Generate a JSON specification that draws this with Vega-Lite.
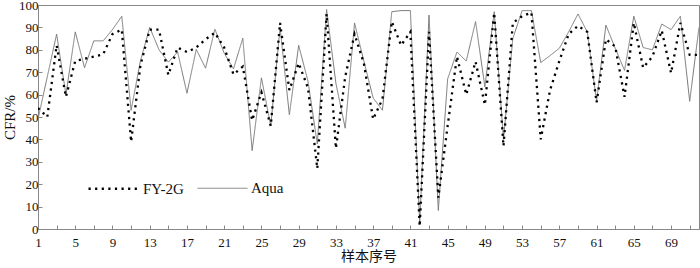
{
  "$schema": "https://vega.github.io/schema/vega-lite/v6.json",
  "autosize": "none",
  "width": 661,
  "height": 224,
  "padding": {"left": 38, "top": 5, "right": 1, "bottom": 39},
  "background": "white",
  "config": {
    "view": {"stroke": "#888", "strokeWidth": 1},
    "axis": {
      "labelFont": "Liberation Serif",
      "titleFont": "Liberation Serif, Noto Sans CJK SC",
      "labelFontSize": 13,
      "titleFontSize": 15,
      "titleFontWeight": "normal",
      "labelColor": "#111",
      "titleColor": "#111",
      "domainColor": "#888",
      "tickColor": "#888",
      "grid": false
    },
    "legend": {
      "labelFont": "Liberation Serif",
      "labelFontSize": 15,
      "labelColor": "#111"
    }
  },
  "data": {
    "values": [
      {"n":1,"FY-2G":54,"Aqua":49},
      {"n":2,"FY-2G":50,"Aqua":68},
      {"n":3,"FY-2G":82,"Aqua":87},
      {"n":4,"FY-2G":59,"Aqua":60},
      {"n":5,"FY-2G":75,"Aqua":88},
      {"n":6,"FY-2G":76,"Aqua":72},
      {"n":7,"FY-2G":77,"Aqua":84},
      {"n":8,"FY-2G":78,"Aqua":84},
      {"n":9,"FY-2G":87,"Aqua":89},
      {"n":10,"FY-2G":89,"Aqua":95},
      {"n":11,"FY-2G":39,"Aqua":53},
      {"n":12,"FY-2G":73,"Aqua":75},
      {"n":13,"FY-2G":89,"Aqua":90},
      {"n":14,"FY-2G":89,"Aqua":80},
      {"n":15,"FY-2G":68.8,"Aqua":74.5},
      {"n":16,"FY-2G":81,"Aqua":79},
      {"n":17,"FY-2G":79,"Aqua":60.6},
      {"n":18,"FY-2G":81,"Aqua":80.2},
      {"n":19,"FY-2G":84.7,"Aqua":71.8},
      {"n":20,"FY-2G":87.6,"Aqua":89.2},
      {"n":21,"FY-2G":81,"Aqua":78.5},
      {"n":22,"FY-2G":69,"Aqua":71.5},
      {"n":23,"FY-2G":72.5,"Aqua":85.2},
      {"n":24,"FY-2G":48.5,"Aqua":35},
      {"n":25,"FY-2G":61,"Aqua":67.5},
      {"n":26,"FY-2G":46,"Aqua":46},
      {"n":27,"FY-2G":92,"Aqua":90},
      {"n":28,"FY-2G":62,"Aqua":51},
      {"n":29,"FY-2G":74,"Aqua":82},
      {"n":30,"FY-2G":63,"Aqua":66},
      {"n":31,"FY-2G":27,"Aqua":38},
      {"n":32,"FY-2G":96,"Aqua":98},
      {"n":33,"FY-2G":36,"Aqua":65},
      {"n":34,"FY-2G":68,"Aqua":45},
      {"n":35,"FY-2G":87,"Aqua":92},
      {"n":36,"FY-2G":74,"Aqua":75},
      {"n":37,"FY-2G":49,"Aqua":58.5},
      {"n":38,"FY-2G":58,"Aqua":53},
      {"n":39,"FY-2G":92.6,"Aqua":97},
      {"n":40,"FY-2G":82,"Aqua":97.5},
      {"n":41,"FY-2G":88,"Aqua":97.5},
      {"n":42,"FY-2G":1.2,"Aqua":2.5},
      {"n":43,"FY-2G":88,"Aqua":95.5},
      {"n":44,"FY-2G":14,"Aqua":8.3},
      {"n":45,"FY-2G":46,"Aqua":67},
      {"n":46,"FY-2G":77,"Aqua":79},
      {"n":47,"FY-2G":60,"Aqua":75},
      {"n":48,"FY-2G":74.7,"Aqua":92.6},
      {"n":49,"FY-2G":55.4,"Aqua":63.5},
      {"n":50,"FY-2G":96.5,"Aqua":97},
      {"n":51,"FY-2G":37,"Aqua":40},
      {"n":52,"FY-2G":92,"Aqua":85},
      {"n":53,"FY-2G":95,"Aqua":97.5},
      {"n":54,"FY-2G":96.6,"Aqua":97.5},
      {"n":55,"FY-2G":40,"Aqua":74.3},
      {"n":56,"FY-2G":62,"Aqua":77.4},
      {"n":57,"FY-2G":75,"Aqua":80.7},
      {"n":58,"FY-2G":87,"Aqua":88},
      {"n":59,"FY-2G":90.7,"Aqua":96},
      {"n":60,"FY-2G":88,"Aqua":88},
      {"n":61,"FY-2G":56.5,"Aqua":57},
      {"n":62,"FY-2G":84.7,"Aqua":91},
      {"n":63,"FY-2G":81.5,"Aqua":80.7},
      {"n":64,"FY-2G":59,"Aqua":70.8},
      {"n":65,"FY-2G":92,"Aqua":95},
      {"n":66,"FY-2G":72,"Aqua":81},
      {"n":67,"FY-2G":77,"Aqua":80},
      {"n":68,"FY-2G":88.6,"Aqua":91.5},
      {"n":69,"FY-2G":69.6,"Aqua":89},
      {"n":70,"FY-2G":92,"Aqua":95},
      {"n":71,"FY-2G":77.7,"Aqua":57},
      {"n":72,"FY-2G":77.7,"Aqua":90}
    ]
  },
  "transform": [{"fold": ["Aqua", "FY-2G"], "as": ["series", "cfr"]}],
  "mark": {"type": "line", "strokeCap": "butt", "strokeJoin": "miter", "clip": true},
  "encoding": {
    "x": {
      "field": "n",
      "type": "quantitative",
      "scale": {"domain": [1, 72], "nice": false, "zero": false},
      "axis": {
        "title": "样本序号",
        "titleFontSize": 14,
        "values": [1,3,5,7,9,11,13,15,17,19,21,23,25,27,29,31,33,35,37,39,41,43,45,47,49,51,53,55,57,59,61,63,65,67,69,71],
        "labelExpr": "(datum.value - 1) % 4 == 0 ? datum.label : ''",
        "tickSize": -4,
        "labelPadding": 11,
        "labelFlush": false,
        "titlePadding": 0
      }
    },
    "y": {
      "field": "cfr",
      "type": "quantitative",
      "scale": {"domain": [0, 100], "nice": false},
      "axis": {
        "title": "CFR/%",
        "values": [0,10,20,30,40,50,60,70,80,90,100],
        "tickSize": -4,
        "labelPadding": 4,
        "titlePadding": 1
      }
    },
    "color": {
      "field": "series",
      "type": "nominal",
      "scale": {"domain": ["FY-2G", "Aqua"], "range": ["#000000", "#7a7a7a"]},
      "legend": {
        "title": null,
        "orient": "none",
        "legendX": 49,
        "legendY": 157,
        "direction": "horizontal",
        "symbolType": "stroke",
        "symbolSize": 2500,
        "labelOffset": 3,
        "columnPadding": 11
      }
    },
    "strokeDash": {
      "field": "series",
      "type": "nominal",
      "scale": {"domain": ["FY-2G", "Aqua"], "range": [[2.2, 4.4], [1, 0]]},
      "legend": {
        "title": null,
        "orient": "none",
        "legendX": 49,
        "legendY": 157,
        "direction": "horizontal",
        "symbolType": "stroke",
        "symbolSize": 2500,
        "labelOffset": 3,
        "columnPadding": 11
      }
    },
    "strokeWidth": {
      "field": "series",
      "type": "nominal",
      "scale": {"domain": ["FY-2G", "Aqua"], "range": [2.3, 1]},
      "legend": {
        "title": null,
        "orient": "none",
        "legendX": 49,
        "legendY": 157,
        "direction": "horizontal",
        "symbolType": "stroke",
        "symbolSize": 2500,
        "labelOffset": 3,
        "columnPadding": 11
      }
    }
  }
}
